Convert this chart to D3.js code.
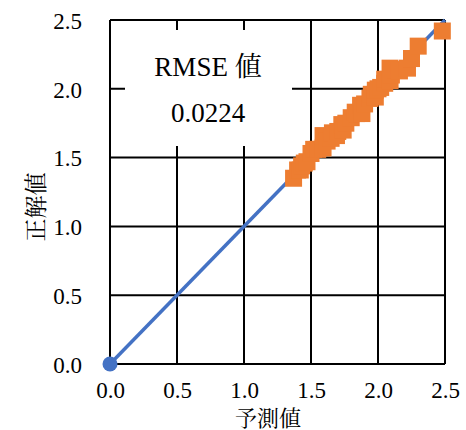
<!DOCTYPE html>
<html>
<head>
<meta charset="utf-8">
<script src="https://cdn.jsdelivr.net/npm/d3@7"></script>
<style>
  body { margin: 0; background: #fff; }
  text { font-family: "Liberation Serif", "Noto Serif CJK JP", serif; fill: #000; }
</style>
</head>
<body>
<svg></svg>
<script>
// DATA
let predicted = [1.37, 1.40, 1.42, 1.43, 1.45, 1.47, 1.50, 1.52, 1.55, 1.59, 1.59, 1.62, 1.65, 1.66,
  1.69, 1.70, 1.73, 1.74, 1.76, 1.80, 1.83, 1.84, 1.87, 1.88, 1.90, 1.94, 1.95, 1.98, 1.98,
  2.00, 2.02, 2.05, 2.05, 2.09, 2.09, 2.10, 2.13, 2.16, 2.22, 2.25, 2.25, 2.30, 2.48]
let actual = [1.35, 1.41, 1.41, 1.44, 1.46, 1.47, 1.53, 1.56, 1.56, 1.57, 1.66, 1.62, 1.64, 1.68,
  1.66, 1.69, 1.74, 1.70, 1.75, 1.79, 1.83, 1.82, 1.88, 1.82, 1.89, 1.93, 1.96, 1.94, 1.99,
  2.00, 2.01, 2.04, 2.07, 2.15, 2.06, 2.10, 2.14, 2.13, 2.15, 2.22, 2.22, 2.31, 2.42]
let refLine = [0, 2.5]
let ticks = [0, 0.5, 1.0, 1.5, 2.0, 2.5]
let rmseLabel = "RMSE 値"
let rmseValue = "0.0224"
let xTitle = "予測値"
let yTitle = "正解値"

let svgWidth = 466
let svgHeight = 430
let mLeft = 110, mTop = 20, plotW = 335, plotH = 344
let serif = '"Liberation Serif", "Noto Serif CJK JP", serif'

// THE CONTAINER
let svg = d3.select("svg")
  .attr("width", svgWidth)
  .attr("height", svgHeight)

// SCALE
let xScale = d3.scaleLinear().domain([0, 2.5]).range([mLeft, mLeft + plotW])
let yScale = d3.scaleLinear().domain([0, 2.5]).range([mTop + plotH, mTop])

// GRID
svg.append('g').selectAll('line')
  .data(ticks)
  .enter()
  .append('line')
  .attr('x1', d => xScale(d)).attr('x2', d => xScale(d))
  .attr('y1', mTop).attr('y2', mTop + plotH)
  .attr('stroke', '#000').attr('stroke-width', 2)

svg.append('g').selectAll('line')
  .data(ticks)
  .enter()
  .append('line')
  .attr('y1', d => yScale(d)).attr('y2', d => yScale(d))
  .attr('x1', mLeft).attr('x2', mLeft + plotW)
  .attr('stroke', '#000').attr('stroke-width', 2)

// TEXT BOX (covers grid)
svg.append('rect')
  .attr('x', 125).attr('y', 30)
  .attr('width', 167).attr('height', 116)
  .attr('fill', '#fff')

svg.append('text')
  .attr('x', 208).attr('y', 67)
  .attr('text-anchor', 'middle')
  .attr('dominant-baseline', 'central')
  .style('font-family', serif)
  .style('font-size', '27px')
  .text(rmseLabel)

svg.append('text')
  .attr('x', 208).attr('y', 113)
  .attr('text-anchor', 'middle')
  .attr('dominant-baseline', 'central')
  .style('font-family', serif)
  .style('font-size', '27px')
  .text(rmseValue)

// AXES LABELS
let xAxis = d3.axisBottom(xScale).tickValues(ticks).tickFormat(d3.format('.1f')).tickSize(0).tickPadding(18)
let yAxis = d3.axisLeft(yScale).tickValues(ticks).tickFormat(d3.format('.1f')).tickSize(0).tickPadding(28)

let gx = svg.append('g')
  .attr('transform', `translate(0, ${mTop + plotH})`)
  .call(xAxis)
let gy = svg.append('g')
  .attr('transform', `translate(${mLeft}, 0)`)
  .call(yAxis)

;[gx, gy].forEach(g => {
  g.select('.domain').remove()
  g.attr('font-family', null).attr('font-size', null)
  g.selectAll('text')
    .attr('fill', '#000')
    .style('font-family', serif)
    .style('font-size', '23px')
})
gy.selectAll('text').attr('dy', '0.36em')
gx.selectAll('text').attr('dy', '0.71em')

svg.append('text')
  .attr('x', 268).attr('y', 416)
  .attr('text-anchor', 'middle')
  .attr('dominant-baseline', 'central')
  .style('font-family', '"Noto Serif CJK JP", serif')
  .style('font-size', '22px')
  .text(xTitle)

svg.append('text')
  .attr('transform', 'translate(34, 207) rotate(-90)')
  .attr('text-anchor', 'middle')
  .attr('dominant-baseline', 'central')
  .style('font-family', '"Noto Serif CJK JP", serif')
  .style('font-size', '23px')
  .text(yTitle)

// REFERENCE LINE
svg.append('line')
  .attr('x1', xScale(refLine[0])).attr('y1', yScale(refLine[0]))
  .attr('x2', xScale(refLine[1])).attr('y2', yScale(refLine[1]))
  .attr('stroke', '#4472C4').attr('stroke-width', 3.5)

svg.append('circle')
  .attr('cx', xScale(refLine[0]))
  .attr('cy', yScale(refLine[0]))
  .attr('r', 7.5)
  .attr('fill', '#4472C4')

// SCATTER
let size = 17
svg.append('g').selectAll('rect')
  .data(predicted)
  .enter()
  .append('rect')
  .attr('x', (d, i) => xScale(d) - size / 2)
  .attr('y', (d, i) => yScale(actual[i]) - size / 2)
  .attr('width', size).attr('height', size)
  .attr('fill', '#ED7D31')
</script>
</body>
</html>
